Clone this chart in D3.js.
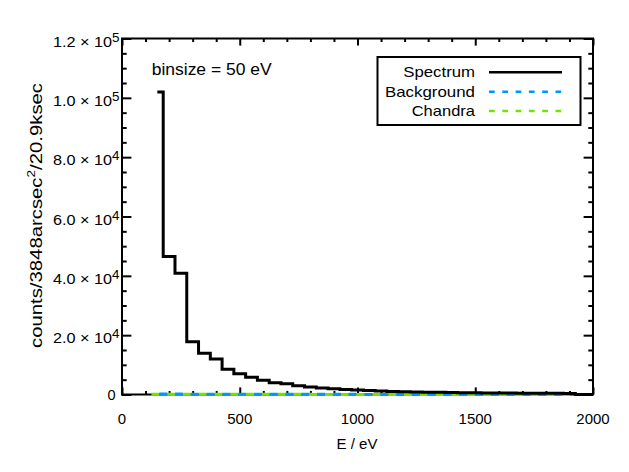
<!DOCTYPE html>
<html>
<head>
<meta charset="utf-8">
<script src="https://cdn.jsdelivr.net/npm/d3@7"></script>
<style>
  body { margin: 0; background: #fff; }
  text { font-family: "Liberation Sans", Arial, Helvetica, sans-serif; fill: #000; }
</style>
</head>
<body>
<div id="chart"></div>
<script>
// spectrum: bin centre energy (eV) and counts, drawn in histogram mode
const energy = [150, 200, 250, 300, 350, 400, 450, 500, 550, 600, 650, 700, 750, 800, 850, 900, 950, 1000,
  1050, 1100, 1150, 1200, 1250, 1300, 1350, 1400, 1450, 1500, 1550, 1600, 1650, 1700, 1750, 1800, 1850,
  1900, 1950, 2000]
const spectrum = [102000, 46500, 40900, 17800, 13900, 12000, 8500, 7000, 5800, 4800, 4000, 3600, 2950, 2500,
  2150, 1900, 1700, 1500, 1350, 1150, 1050, 950, 850, 780, 720, 660, 610, 570, 530, 500, 470, 440, 420,
  400, 380, 360, 0, 0]

// background and chandra sit on the zero line
const bgEnergy = [125, 175, 225, 275, 325, 375, 425, 475, 525, 575, 625, 675, 725, 775, 825, 875, 925, 975,
  1025, 1075, 1125, 1175, 1225, 1275, 1325, 1375, 1425, 1475, 1525, 1575, 1625, 1675, 1725, 1775, 1825,
  1875, 1925]
const background = [150, 140, 130, 120, 110, 100, 90, 85, 80, 75, 70, 65, 60, 55, 50, 50, 45, 45, 40, 40,
  35, 35, 30, 30, 30, 25, 25, 25, 20, 20, 20, 20, 15, 15, 15, 15, 15]
const chandra = [120, 110, 100, 95, 90, 80, 75, 70, 65, 60, 55, 50, 45, 45, 40, 40, 35, 35, 30, 30, 30, 25,
  25, 25, 20, 20, 20, 20, 15, 15, 15, 15, 10, 10, 10, 10, 10]

const xTicks = [0, 500, 1000, 1500, 2000]
const yTicks = [0, 20000, 40000, 60000, 80000, 100000, 120000]
const seriesNames = ['Spectrum', 'Background', 'Chandra']
const seriesColors = ['#000000', '#0096ff', '#6ee600']

const width = 629,
      height = 472

const svg = d3.select('#chart')
  .append('svg')
  .attr('width', width)
  .attr('height', height)

svg.append('rect')
  .attr('width', width)
  .attr('height', height)
  .attr('fill', '#fff')

const x = d3.scaleLinear()
  .domain([0, 2000])
  .range([122, 593])

const y = d3.scaleLinear()
  .domain([0, 120000])
  .range([394.5, 38.5])

const xMinor = d3.range(0, 2001, 100).filter(function(v) { return v % 500 !== 0 })
const yMinor = d3.range(0, 120001, 5000).filter(function(v) { return v % 20000 !== 0 })

// plot frame
svg.append('rect')
  .attr('x', x(0))
  .attr('y', y(120000))
  .attr('width', x(2000) - x(0))
  .attr('height', y(0) - y(120000))
  .attr('fill', 'none')
  .attr('stroke', '#000')
  .attr('stroke-width', 2)

// ticks on all four sides, pointing inward
const axes = [
  [d3.axisBottom, x, 'translate(0,' + y(0) + ')', xTicks, xMinor, 7.1],
  [d3.axisTop, x, 'translate(0,' + y(120000) + ')', xTicks, xMinor, 7.1],
  [d3.axisLeft, y, 'translate(' + x(0) + ',0)', yTicks, yMinor, 9.4],
  [d3.axisRight, y, 'translate(' + x(2000) + ',0)', yTicks, yMinor, 9.4]
]
axes.forEach(function(a) {
  svg.append('g').attr('transform', a[2])
    .call(a[0](a[1]).tickValues(a[3]).tickSize(-a[5]).tickFormat(''))
  svg.append('g').attr('transform', a[2])
    .call(a[0](a[1]).tickValues(a[4]).tickSize(-a[5] / 2).tickFormat(''))
})
svg.selectAll('.domain').remove()
svg.selectAll('.tick line').attr('stroke-width', 2)

// data lines, drawn over the frame
const line = d3.line().curve(d3.curveStep)

svg.append('path')
  .attr('d', line(bgEnergy.map(function(e, i) { return [x(e), y(background[i])] })))
  .attr('fill', 'none')
  .attr('stroke', seriesColors[1])
  .attr('stroke-width', 3)
  .attr('stroke-dasharray', '7.9,7.9')
  .attr('stroke-dashoffset', 7.9)

svg.append('path')
  .attr('d', line(bgEnergy.map(function(e, i) { return [x(e), y(chandra[i])] })))
  .attr('fill', 'none')
  .attr('stroke', seriesColors[2])
  .attr('stroke-width', 3)
  .attr('stroke-dasharray', '7.9,7.9')

svg.append('path')
  .attr('d', line(energy.map(function(e, i) { return [x(e), y(spectrum[i])] })))
  .attr('fill', 'none')
  .attr('stroke', seriesColors[0])
  .attr('stroke-width', 3)
  .attr('stroke-linejoin', 'miter')

// tick labels
svg.selectAll('.xlabel')
  .data(xTicks)
  .enter().append('text')
  .attr('class', 'xlabel')
  .attr('x', function(d) { return x(d) })
  .attr('y', 423.5)
  .attr('text-anchor', 'middle')
  .style('font-size', '15px')
  .text(function(d) { return d })

// y labels are a little wider than the plain font, so stretch them horizontally
svg.selectAll('.ylabel')
  .data(yTicks)
  .enter().append('text')
  .attr('class', 'ylabel')
  .attr('text-anchor', 'end')
  .style('font-size', '14.5px')
  .each(function(d) {
    const t = d3.select(this)
    if (d === 0) {
      t.attr('transform', 'translate(115.5,' + (y(d) + 5) + ')').text('0')
      return
    }
    const exp = Math.floor(Math.log10(d))
    const mant = (d / Math.pow(10, exp)).toFixed(1)
    t.attr('transform', 'translate(119.5,' + (y(d) + 8) + ') scale(1.12,1)')
    t.append('tspan').text(mant + ' \u00d7 10')
    t.append('tspan').attr('dy', -5).style('font-size', '12px').text(exp)
  })

// axis titles
svg.append('text')
  .attr('x', 357)
  .attr('y', 449)
  .attr('text-anchor', 'middle')
  .style('font-size', '15px')
  .text('E / eV')

const ytitle = svg.append('text')
  .attr('transform', 'translate(41.5,215.5) rotate(-90)')
  .attr('text-anchor', 'middle')
  .attr('textLength', 265)
  .attr('lengthAdjust', 'spacingAndGlyphs')
  .style('font-size', '16.5px')
ytitle.append('tspan').text('counts/3848arcsec')
ytitle.append('tspan').attr('dy', -6.5).style('font-size', '11px').text('2')
ytitle.append('tspan').attr('dy', 6.5).text('/20.9ksec')

svg.append('text')
  .attr('x', 151.7)
  .attr('y', 75)
  .attr('textLength', 120)
  .attr('lengthAdjust', 'spacingAndGlyphs')
  .style('font-size', '16px')
  .text('binsize = 50 eV')

// legend
const legend = svg.append('g')
legend.append('rect')
  .attr('x', 377.5)
  .attr('y', 57)
  .attr('width', 203)
  .attr('height', 68)
  .attr('fill', '#fff')
  .attr('stroke', '#000')
  .attr('stroke-width', 2)

const rowY = [72.3, 91.7, 111]
const rowWidth = [71.7, 90, 63.3]
seriesNames.forEach(function(name, i) {
  legend.append('text')
    .attr('x', 475)
    .attr('y', rowY[i] + 5)
    .attr('text-anchor', 'end')
    .attr('textLength', rowWidth[i])
    .attr('lengthAdjust', 'spacingAndGlyphs')
    .style('font-size', '15px')
    .text(name)
  legend.append('line')
    .attr('x1', 489)
    .attr('x2', 562)
    .attr('y1', rowY[i])
    .attr('y2', rowY[i])
    .attr('stroke', seriesColors[i])
    .attr('stroke-width', 2.5)
    .attr('stroke-dasharray', i === 0 ? null : '5.7,7.6')
})
</script>
</body>
</html>
